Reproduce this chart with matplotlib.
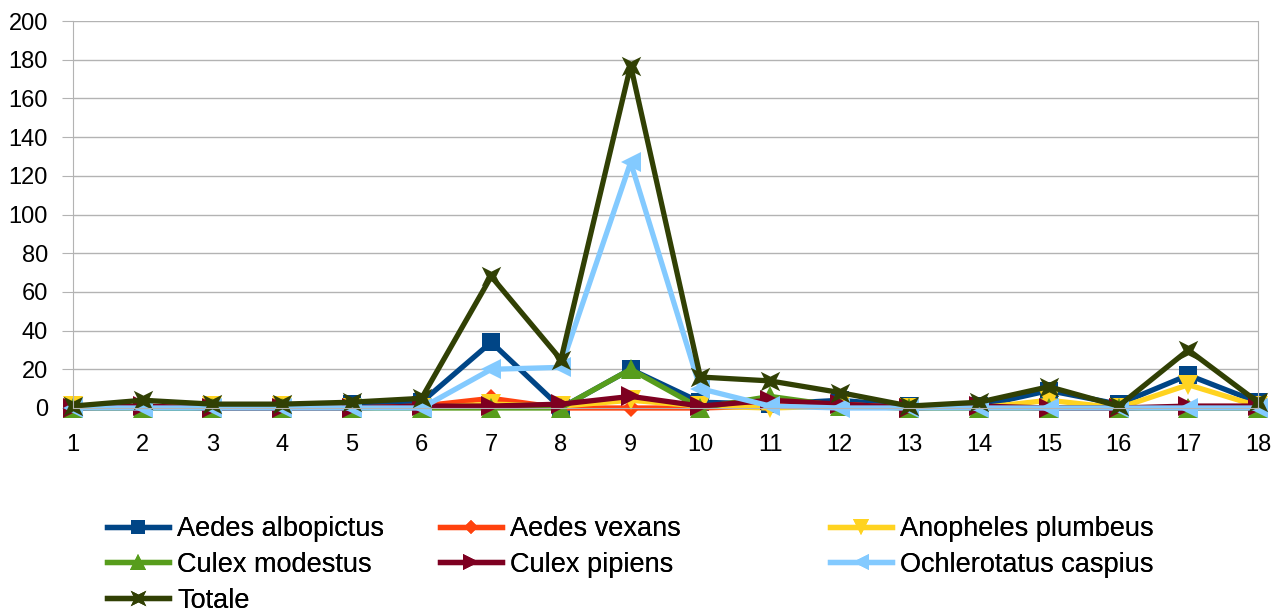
import numpy as np
import matplotlib.pyplot as plt
from matplotlib.path import Path

plt.rcParams['font.family'] = ['Liberation Sans', 'DejaVu Sans']

# dati
weeks = list(range(1, 19))
aedes_albopictus = [0, 0, 0, 0, 2, 3, 34, 0, 20, 3, 2, 4, 1, 1, 9, 2, 17, 3]
aedes_vexans = [0, 0, 1, 1, 0, 1, 5, 0, 0, 0, 1, 2, 0, 0, 0, 0, 0, 0]
anopheles_plumbeus = [1, 0, 1, 1, 0, 0, 2, 1, 4, 1, 0, 1, 0, 0, 4, 0, 12, 1]
culex_modestus = [0, 0, 0, 0, 0, 0, 0, 0, 20, 0, 6, 1, 0, 0, 0, 0, 0, 0]
culex_pipiens = [0, 1, 0, 0, 0, 1, 1, 2, 6, 1, 4, 2, 0, 1, 0, 0, 1, 1]
ochlerotatus_caspius = [0, 0, 0, 0, 0, 0, 20, 21, 127, 10, 1, 0, 0, 0, 0, 0, 0, 0]
totale = [1, 4, 2, 2, 3, 5, 68, 25, 177, 16, 14, 8, 1, 3, 11, 1, 30, 3]

# marker a "farfallina" per il totale
bowtie = Path([(-1, 1), (0, 0.5), (1, 1), (0.5, 0), (1, -1), (0, -0.5),
               (-1, -1), (-0.5, 0), (-1, 1)],
              [Path.MOVETO] + [Path.LINETO] * 7 + [Path.CLOSEPOLY])

series = [
    ('Aedes albopictus', aedes_albopictus, '#004586', 's', 13),
    ('Aedes vexans', aedes_vexans, '#ff420e', 'D', 9),
    ('Anopheles plumbeus', anopheles_plumbeus, '#ffd320', 'v', 14),
    ('Culex modestus', culex_modestus, '#579d1c', '^', 14),
    ('Culex pipiens', culex_pipiens, '#7e0021', '>', 14),
    ('Ochlerotatus caspius', ochlerotatus_caspius, '#83caff', '<', 14),
    ('Totale', totale, '#314004', bowtie, 14),
]

fig = plt.figure(figsize=(12.73, 6.15), dpi=100)
ax = fig.add_axes([73 / 1273, 1 - 408 / 615, (1258 - 73) / 1273, (408 - 21) / 615])

handles = []
for name, vals, col, mk, ms in series:
    h, = ax.plot(weeks, vals, color=col, lw=3.8, marker=mk, markersize=ms,
                 markeredgewidth=0, label=name, clip_on=False)
    handles.append(h)

ax.set_xlim(1, 18)
ax.set_ylim(0, 200)
ax.set_xticks(weeks)
ax.set_yticks(np.arange(0, 201, 20))
ax.grid(axis='y', color='#b3b3b3', lw=1)
ax.set_axisbelow(True)
for s in ['left', 'bottom', 'right']:
    ax.spines[s].set_color('#b3b3b3')
ax.spines['top'].set_visible(False)
ax.tick_params(axis='y', labelsize=17, color='#b3b3b3', length=8, pad=10)
ax.tick_params(axis='x', labelsize=17, color='#b3b3b3', length=4, pad=15)

# legenda in tre colonne separate, come nell'originale
columns = [([0, 3, 6], 107), ([1, 4], 440), ([2, 5], 830)]
for idx, x0 in columns:
    leg = fig.legend([handles[i] for i in idx], [series[i][0] for i in idx],
                     loc='upper left', bbox_to_anchor=(x0 / 1273, 1 - 516 / 615),
                     frameon=False, fontsize=19.5, handlelength=2.3,
                     labelspacing=0.36, handletextpad=0.3, markerscale=0.8,
                     borderpad=0, borderaxespad=0)
    fig.add_artist(leg)

fig.savefig('out.png', dpi=100)
